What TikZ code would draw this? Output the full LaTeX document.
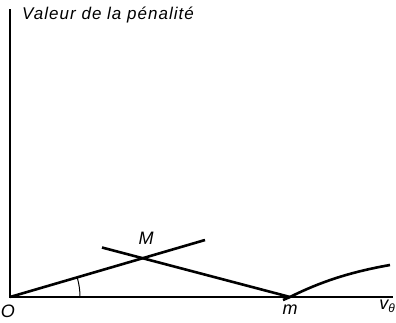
\documentclass[tikz,border=0pt]{standalone}
\usepackage{fontspec}
\setsansfont{Liberation Sans}
\newfontfamily\spacedsans[LetterSpace=6]{Liberation Sans}
\begin{document}
\begin{tikzpicture}[x=1pt,y=-1pt,
  axis/.style={line width=1.8pt},
  curve/.style={line width=2.6pt},
  lab/.style={font=\sffamily\itshape\fontsize{18}{20}\selectfont, inner sep=0pt},
  tlab/.style={font=\spacedsans\itshape\fontsize{17}{19}\selectfont, inner sep=0pt}]
\useasboundingbox (0,0) rectangle (396,322);
\coordinate (O) at (10,297);
\coordinate (Ytop) at (10,9);
\coordinate (Xend) at (393,297);
\coordinate (M) at (145,258.5);
\coordinate (A1) at (205,240);
\coordinate (B0) at (102,247.5);
\coordinate (m) at (290,297);
\coordinate (C1) at (390,265);
\coordinate (mh) at (283,300);
\draw[axis] (Ytop) -- (O) -- (Xend);
\draw[curve] (O) -- (A1);
\draw[curve] (B0) -- (m);
\draw[curve] (mh) -- (m) .. controls (320,282) and (350,272) .. (C1);
\draw[line width=1pt] ([shift={(0:70)}]O) arc[start angle=0, end angle=-15.8, radius=70];
\node[tlab, anchor=west] (title) at (22,15) {Valeur de la pénalité};
\node[lab] (Ml) at (146,238) {M};
\node[lab] (Ol) at (8,311) {O};
\node[lab] (ml) at (290,310) {m};
\node[lab] (vl) at (387,306) {v\raisebox{-3pt}{\fontsize{12}{12}\selectfont θ}};
\end{tikzpicture}
\end{document}
